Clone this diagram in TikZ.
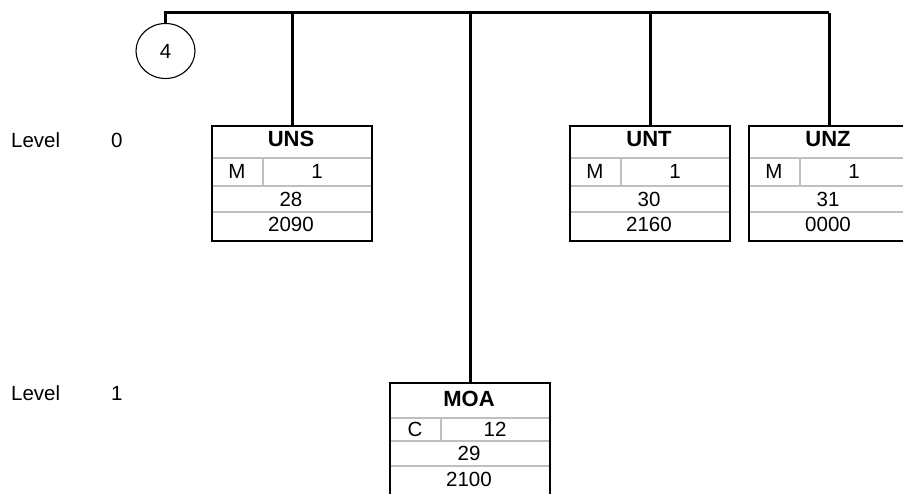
\documentclass[tikz,border=0pt]{standalone}
\usepackage{fontspec}
\setmainfont{Liberation Sans}
\usetikzlibrary{calc,shapes.geometric}
\tikzset{
  segframe/.style={draw=black, line width=2.3pt, rectangle, minimum width=160pt,
    minimum height=115pt, inner sep=0pt, anchor=north west},
  gridline/.style={draw=black!25, line width=1.6pt},
  conn/.style={draw=black, line width=3pt},
  txt/.style={inner sep=0pt, anchor=base, font=\fontsize{20.5}{24}\selectfont},
  ttl/.style={inner sep=0pt, anchor=base, font=\fontsize{22}{26}\selectfont\bfseries},
  lvl/.style={inner sep=0pt, anchor=base west, font=\fontsize{20.5}{24}\selectfont},
  circ/.style={draw=black, line width=1.1pt, ellipse, minimum width=59pt,
    minimum height=55pt, inner sep=0pt, font=\fontsize{20.5}{24}\selectfont},
}
% row layout (offsets from box top)
\def\dA{33}\def\dB{61}\def\dC{87}
\def\bT{22}\def\bS{54}\def\bN{81.7}\def\bP{106.7}
% name, x0, y0, title, status, repeat, number, position
\newcommand\segbox[8]{%
  \draw[gridline] (#2,#3+\dA) -- (#2+160,#3+\dA);
  \draw[gridline] (#2,#3+\dB) -- (#2+160,#3+\dB);
  \draw[gridline] (#2,#3+\dC) -- (#2+160,#3+\dC);
  \draw[gridline] (#2+52,#3+\dA) -- (#2+52,#3+\dB);
  \node[segframe] (#1) at (#2,#3) {};
  \node[ttl] (#1-t) at (#2+80,#3+\bT) {#4};
  \node[txt] (#1-s) at (#2+26,#3+\bS) {#5};
  \node[txt] (#1-r) at (#2+106,#3+\bS) {#6};
  \node[txt] (#1-n) at (#2+80,#3+\bN) {#7};
  \node[txt] (#1-p) at (#2+80,#3+\bP) {#8};
}
\begin{document}
\begin{tikzpicture}[x=1pt,y=-1pt]
\useasboundingbox (0,0) rectangle (903,494);
\clip (0,0) rectangle (903,494);

% level labels
\node[lvl] (lv0) at (11,148) {Level};
\node[lvl] (lv0n) at (111,148) {0};
\node[lvl] (lv1) at (11,401) {Level};
\node[lvl] (lv1n) at (111,401) {1};

% boxes
\segbox{uns}{211}{125}{UNS}{M}{1}{28}{2090}
\segbox{unt}{569}{125}{UNT}{M}{1}{30}{2160}
\segbox{unz}{748}{125}{UNZ}{M}{1}{31}{0000}
\def\dA{36}\def\dB{59}\def\dC{84}
\def\bT{25}\def\bS{55}\def\bN{78.4}\def\bP{104.4}
\segbox{moa}{389}{382}{MOA}{C}{12}{29}{2100}

% group circle
\node[circ] (c4) at (165.5,51) {4};

% bus and connectors
\coordinate (busL) at (165.5,13);
\coordinate (busR) at (829,13);
\draw[conn] (c4.north) -- (busL) -- (busR);
\draw[conn] (uns.north |- busL) -- (uns.north);
\draw[conn] (moa.north |- busL) -- (moa.north);
\draw[conn] (unt.north |- busL) -- (unt.north);
\draw[conn] (unz.north |- busL) -- (unz.north);
\end{tikzpicture}
\end{document}
